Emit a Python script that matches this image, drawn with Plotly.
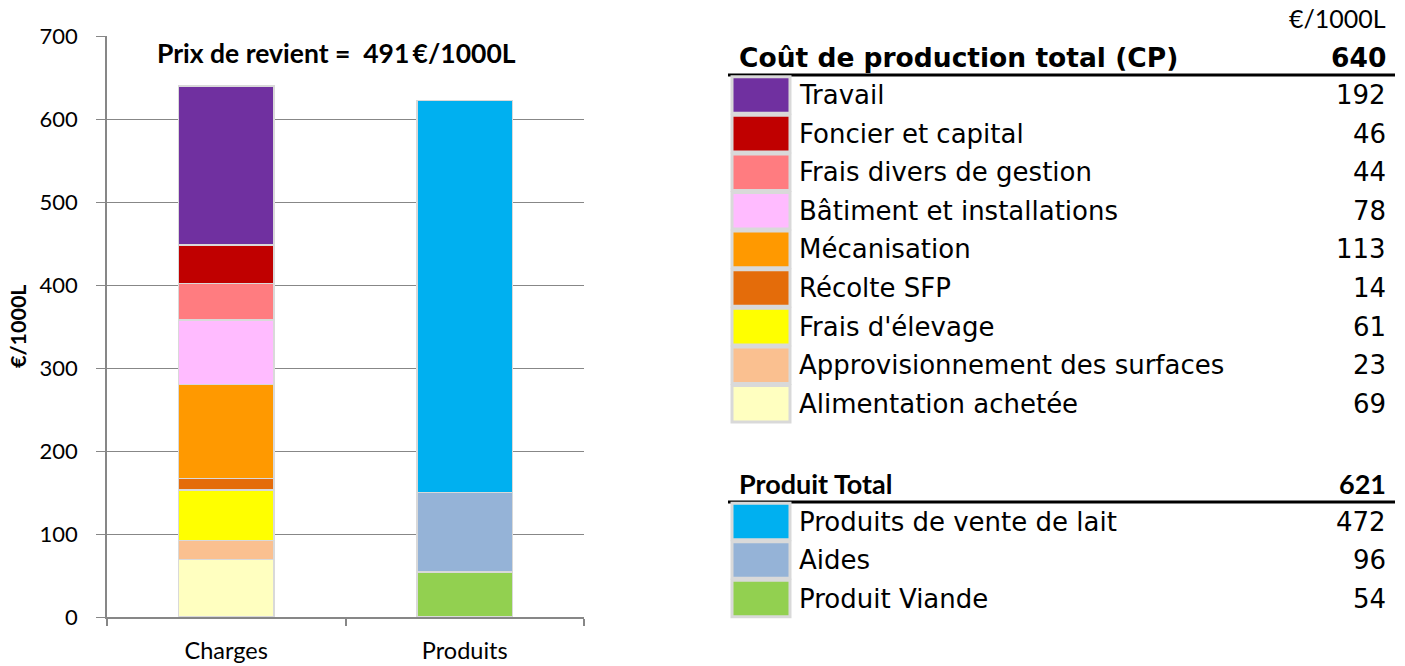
import plotly.graph_objects as go

W, H = 1405, 666

# ---- data ----
categories = ["Charges", "Produits"]
charge_names = ["Alimentation achetée", "Approvisionnement des surfaces", "Frais d'élevage",
                "Récolte SFP", "Mécanisation", "Bâtiment et installations",
                "Frais divers de gestion", "Foncier et capital", "Travail"]
charge_values = [69, 23, 61, 14, 113, 78, 44, 46, 192]
charge_colors = ["#FFFFC0", "#FAC090", "#FFFF00", "#E46C0A", "#FF9900", "#FFBBFF",
                 "#FF7C80", "#C00000", "#7030A0"]

produit_names = ["Produit Viande", "Aides", "Produits de vente de lait"]
produit_values = [54, 96, 472]
produit_colors = ["#92D050", "#95B3D7", "#00B0F0"]

cout_total = 640
produit_total = 621
prix_revient = 491

y_ticks = [0, 100, 200, 300, 400, 500, 600, 700]

FONT_C = "Lato"
FONT_V = "DejaVu Sans"


def px(x):
    return x / W


def py(y):
    return 1 - y / H


fig = go.Figure()
xpos = [0.5, 1.5]
for n, v, c in zip(charge_names, charge_values, charge_colors):
    fig.add_trace(go.Bar(x=[xpos[0]], y=[v], name=n, marker=dict(color=c, line=dict(color="#D9D9D9", width=1.5)),
                         width=0.4, showlegend=False, hoverinfo="name+y"))
for n, v, c in zip(produit_names, produit_values, produit_colors):
    fig.add_trace(go.Bar(x=[xpos[1]], y=[v], name=n, marker=dict(color=c, line=dict(color="#D9D9D9", width=1.5)),
                         width=0.4, showlegend=False, hoverinfo="name+y"))

fig.update_layout(
    barmode="stack",
    width=W, height=H,
    margin=dict(l=0, r=0, t=0, b=0, autoexpand=False),
    plot_bgcolor="white", paper_bgcolor="white",
    xaxis=dict(domain=[px(107), px(584)], range=[0, 2], tickvals=xpos, ticktext=categories,
               ticks="", showgrid=False, showline=True, linecolor="#878787", linewidth=1.5,
               tickfont=dict(family=FONT_C, size=23.5, color="black"), ticklabelstandoff=12,
               minor=dict(tickvals=[0, 1, 2], ticks="outside", ticklen=7, tickcolor="#878787", tickwidth=1.5),
               zeroline=False, fixedrange=True, automargin=False),
    yaxis=dict(domain=[py(617), py(36)], range=[0, 700], tickvals=y_ticks,
               showgrid=True, gridcolor="#878787", gridwidth=1.2,
               showline=True, linecolor="#878787", linewidth=1.5,
               ticks="outside", ticklen=9, tickcolor="#878787", tickwidth=1.2,
               tickfont=dict(family=FONT_C, size=22, color="black"), ticklabelstandoff=14,
               zeroline=False, fixedrange=True, automargin=False),
)

annotations = []
shapes = []


def text(x, y, s, xanchor, family, size, angle=0):
    annotations.append(dict(x=px(x), y=py(y), xref="paper", yref="paper", text=s, textangle=angle,
                            xanchor=xanchor, yanchor="middle", showarrow=False,
                            font=dict(family=family, size=size, color="black")))


# y-axis title
text(18, 326, "<b>€/1000L</b>", "center", FONT_C, 21.5, angle=-90)
# chart title
text(336, 53, f"<b>Prix de revient =  {prix_revient}\u2009€/1000L</b>", "center", FONT_C, 26.5)

# ---- table on the right ----
XL, XR = 737, 1388
SQ0, SQ1 = 732, 790
TXT = 797

text(XR, 18, "€/1000L", "right", FONT_C, 25)


def section(title, total, names, values, colors, y_head, y_line, y_first, step, title_font, title_size):
    text(XL, y_head, f"<b>{title}</b>", "left", title_font, title_size)
    text(XR, y_head, f"<b>{total}</b>", "right", title_font, title_size)
    shapes.append(dict(type="line", xref="paper", yref="paper", x0=px(728), x1=px(1395), y0=py(y_line), y1=py(y_line),
                       line=dict(color="black", width=3)))
    for i, (n, v, c) in enumerate(zip(names, values, colors)):
        yc = y_first + i * step
        shapes.append(dict(type="rect", xref="paper", yref="paper", x0=px(SQ0), x1=px(SQ1),
                           y0=py(yc - step / 2 + 1), y1=py(yc + step / 2 - 1),
                           fillcolor=c, line=dict(color="#D9D9D9", width=3)))
        text(TXT, yc, n, "left", FONT_V, 26)
        text(XR, yc, str(v), "right", FONT_V, 26)


section("Coût de production total (CP)", cout_total, charge_names[::-1], charge_values[::-1], charge_colors[::-1],
        57, 75, 95, 38.6, FONT_V, 26.5)
section("Produit Total", produit_total, produit_names[::-1], produit_values[::-1], produit_colors[::-1],
        483, 502, 521.5, 38.5, FONT_C, 27)

fig.update_layout(annotations=annotations, shapes=shapes)
fig.write_html("out.html", config={"displayModeBar": False},
               post_script="document.body.style.margin='0';document.body.style.overflow='hidden';")
